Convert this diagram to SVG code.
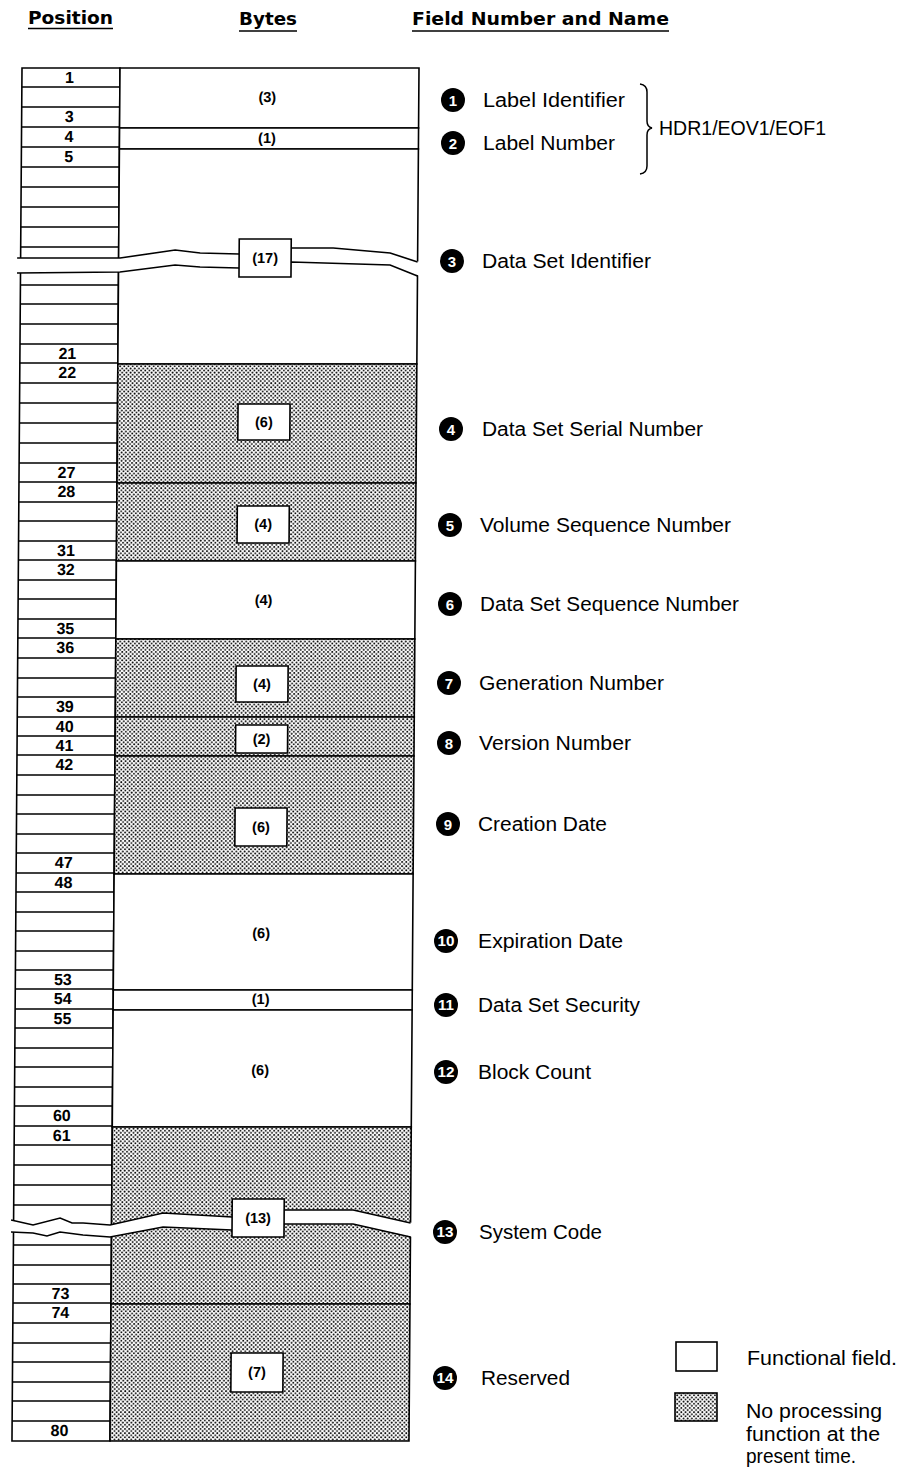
<svg xmlns="http://www.w3.org/2000/svg" width="901" height="1470" viewBox="0 0 901 1470">
<style>
.hd{font-family:"DejaVu Sans","Liberation Sans",sans-serif;font-weight:bold;font-size:17px;fill:#000}
.ul{stroke:#000;stroke-width:1.6}
.pos{font-family:"Liberation Sans",Arial,sans-serif;font-weight:bold;font-size:16px;text-anchor:middle;fill:#000}
.byt{font-family:"Liberation Sans",Arial,sans-serif;font-weight:bold;font-size:14.5px;text-anchor:middle;fill:#000}
.lbl{font-family:"Liberation Sans",Arial,sans-serif;font-size:19.5px;fill:#000}
.cn{font-family:"Liberation Sans",Arial,sans-serif;font-weight:bold;font-size:15px;text-anchor:middle;fill:#fff}
.cn2{font-family:"Liberation Sans",Arial,sans-serif;font-weight:bold;font-size:14px;text-anchor:middle;fill:#fff}
.fw{fill:#fff;stroke:#000;stroke-width:1.6}
.fs{fill:url(#dots);stroke:#000;stroke-width:1.6}
.bx{fill:#fff;stroke:#000;stroke-width:1.6}
.rl{fill:none;stroke:#000;stroke-width:1.4}
.wv{fill:none;stroke:#000;stroke-width:1.6}
</style>
<defs>
<pattern id="dots" width="4.2" height="4.2" patternUnits="userSpaceOnUse">
<rect width="4.2" height="4.2" fill="#fff"/>
<circle cx="1" cy="1" r="0.95" fill="#000"/>
<circle cx="3.1" cy="3.1" r="0.95" fill="#000"/>
</pattern>
</defs>
<rect width="901" height="1470" fill="#fff"/>

<g id="headers">
<text class="hd" x="28" y="24" textLength="85" lengthAdjust="spacingAndGlyphs">Position</text>
<line class="ul" x1="28" y1="28.5" x2="113" y2="28.5"/>
<text class="hd" x="239" y="25" textLength="58" lengthAdjust="spacingAndGlyphs">Bytes</text>
<line class="ul" x1="239" y1="31" x2="297" y2="31"/>
<text class="hd" x="412" y="25" textLength="257" lengthAdjust="spacingAndGlyphs">Field Number and Name</text>
<line class="ul" x1="412" y1="31" x2="669" y2="31"/>
</g>

<g id="table" transform="matrix(1 0 -0.0073 1 0 0)">
<g id="position-column">
<rect x="22.5" y="68" width="98" height="1373" fill="#fff" stroke="#000" stroke-width="1.6"/>
<path class="rl" d="M22.5 87H120.5M22.5 107H120.5M22.5 127H120.5M22.5 147H120.5M22.5 167H120.5M22.5 187H120.5M22.5 207H120.5M22.5 227H120.5M22.5 247H120.5
M22.5 285H120.5M22.5 304H120.5M22.5 324H120.5M22.5 344H120.5M22.5 363H120.5M22.5 383H120.5M22.5 403H120.5M22.5 423H120.5M22.5 443H120.5M22.5 463H120.5
M22.5 482H120.5M22.5 502H120.5M22.5 521H120.5M22.5 541H120.5M22.5 560H120.5M22.5 580H120.5M22.5 599H120.5M22.5 619H120.5M22.5 638H120.5M22.5 658H120.5
M22.5 678H120.5M22.5 697H120.5M22.5 717H120.5M22.5 736H120.5M22.5 755H120.5M22.5 775H120.5M22.5 795H120.5M22.5 814H120.5M22.5 834H120.5M22.5 853H120.5
M22.5 873H120.5M22.5 892H120.5M22.5 912H120.5M22.5 931H120.5M22.5 951H120.5M22.5 970H120.5M22.5 989H120.5M22.5 1009H120.5M22.5 1028H120.5M22.5 1048H120.5
M22.5 1067H120.5M22.5 1087H120.5M22.5 1106H120.5M22.5 1126H120.5M22.5 1145H120.5M22.5 1165H120.5M22.5 1185H120.5M22.5 1205H120.5
M22.5 1245H120.5M22.5 1265H120.5M22.5 1284H120.5M22.5 1303H120.5M22.5 1323H120.5M22.5 1343H120.5M22.5 1362H120.5M22.5 1382H120.5M22.5 1401H120.5M22.5 1421H120.5"/>
</g>

<g id="f1"><rect class="fw" x="120.5" y="68" width="299" height="60"/></g>
<g id="f2"><rect class="fw" x="120.5" y="128" width="299" height="21"/></g>
<g id="f3"><rect class="fw" x="120.5" y="149" width="299" height="215"/></g>
<g id="f4"><rect class="fs" x="120.5" y="364" width="299" height="119"/></g>
<g id="f5"><rect class="fs" x="120.5" y="483" width="299" height="78"/></g>
<g id="f6"><rect class="fw" x="120.5" y="561" width="299" height="78"/></g>
<g id="f7"><rect class="fs" x="120.5" y="639" width="299" height="78"/></g>
<g id="f8"><rect class="fs" x="120.5" y="717" width="299" height="39"/></g>
<g id="f9"><rect class="fs" x="120.5" y="756" width="299" height="118"/></g>
<g id="f10"><rect class="fw" x="120.5" y="874" width="299" height="116"/></g>
<g id="f11"><rect class="fw" x="120.5" y="990" width="299" height="20"/></g>
<g id="f12"><rect class="fw" x="120.5" y="1010" width="299" height="117"/></g>
<g id="f13"><rect class="fs" x="120.5" y="1127" width="299" height="177"/></g>
<g id="f14"><rect class="fs" x="120.5" y="1304" width="299" height="137"/></g>

<g id="break-1">
<path fill="#fff" d="M17 258L122 258L177 250L202 253L241 254L293 248L335 248L392 253L422 262L422 276L392 265L293 262L241 268L202 267L177 265L122 272L17 273Z"/>
<path class="wv" d="M19 258L122 258L177 250L202 253L241 254L293 248L335 248L392 253L419.5 262"/>
<path class="wv" d="M19 273L122 272L177 265L202 267L241 268L293 262L392 265L419.5 276"/>
</g>
<g id="break-2">
<path fill="#fff" d="M18 1220L42 1225L69 1218L81 1223L92 1223L119 1225L172 1213L241 1217L293 1210L362 1210L422 1223L422 1237L362 1224L293 1224L241 1230L172 1227L119 1237L92 1235L69 1232L56 1236L42 1233L18 1232Z"/>
<path class="wv" d="M20 1220L42 1225L69 1218L81 1223L92 1223L119 1225L172 1213L241 1217L293 1210L362 1210L419.5 1223"/>
<path class="wv" d="M20 1232L42 1233L56 1236L69 1232L92 1235L119 1237L172 1227L241 1230L293 1224L362 1224L419.5 1237"/>
</g>

<g id="byte-boxes">
<rect class="bx" x="241" y="239" width="52" height="38"/>
<rect class="bx" x="241" y="404" width="52" height="36"/>
<rect class="bx" x="241" y="506" width="52" height="37"/>
<rect class="bx" x="241" y="666" width="52" height="36"/>
<rect class="bx" x="241" y="725" width="52" height="28"/>
<rect class="bx" x="241" y="808" width="52" height="38"/>
<rect class="bx" x="241" y="1199" width="52" height="38"/>
<rect class="bx" x="241" y="1353" width="52" height="39"/>
</g>

<g id="byte-labels">
<text class="byt" x="268" y="102">(3)</text>
<text class="byt" x="268" y="143">(1)</text>
<text class="byt" x="267" y="263">(17)</text>
<text class="byt" x="267" y="427">(6)</text>
<text class="byt" x="267" y="529">(4)</text>
<text class="byt" x="268" y="605">(4)</text>
<text class="byt" x="267" y="689">(4)</text>
<text class="byt" x="267" y="744">(2)</text>
<text class="byt" x="267" y="832">(6)</text>
<text class="byt" x="268" y="938">(6)</text>
<text class="byt" x="268" y="1004">(1)</text>
<text class="byt" x="268" y="1075">(6)</text>
<text class="byt" x="267" y="1223">(13)</text>
<text class="byt" x="267" y="1377">(7)</text>
</g>

<g id="position-numbers">
<text class="pos" x="70" y="83">1</text>
<text class="pos" x="70" y="122.5">3</text>
<text class="pos" x="70" y="142.5">4</text>
<text class="pos" x="70" y="162.5">5</text>
<text class="pos" x="70" y="359.5">21</text>
<text class="pos" x="70" y="378.5">22</text>
<text class="pos" x="70" y="478.5">27</text>
<text class="pos" x="70" y="497.5">28</text>
<text class="pos" x="70" y="556.5">31</text>
<text class="pos" x="70" y="575.5">32</text>
<text class="pos" x="70" y="634.5">35</text>
<text class="pos" x="70" y="653.5">36</text>
<text class="pos" x="70" y="712.5">39</text>
<text class="pos" x="70" y="732.5">40</text>
<text class="pos" x="70" y="751.5">41</text>
<text class="pos" x="70" y="770.5">42</text>
<text class="pos" x="70" y="868.5">47</text>
<text class="pos" x="70" y="888.5">48</text>
<text class="pos" x="70" y="985.5">53</text>
<text class="pos" x="70" y="1004.5">54</text>
<text class="pos" x="70" y="1024.5">55</text>
<text class="pos" x="70" y="1121.5">60</text>
<text class="pos" x="70" y="1141.5">61</text>
<text class="pos" x="70" y="1299.5">73</text>
<text class="pos" x="70" y="1318.5">74</text>
<text class="pos" x="70" y="1436.5">80</text>
</g>
</g>

<g id="field-names">
<g id="n1"><circle cx="453" cy="100" r="12"/><text class="cn" x="453" y="105.5">1</text><text class="lbl" x="483" y="107" textLength="142" lengthAdjust="spacingAndGlyphs">Label Identifier</text></g>
<g id="n2"><circle cx="453" cy="143" r="12"/><text class="cn" x="453" y="148.5">2</text><text class="lbl" x="483" y="150" textLength="132" lengthAdjust="spacingAndGlyphs">Label Number</text></g>
<g id="n3"><circle cx="452" cy="261" r="12"/><text class="cn" x="452" y="266.5">3</text><text class="lbl" x="482" y="268" textLength="169" lengthAdjust="spacingAndGlyphs">Data Set Identifier</text></g>
<g id="n4"><circle cx="451" cy="429" r="12"/><text class="cn" x="451" y="434.5">4</text><text class="lbl" x="482" y="436" textLength="221" lengthAdjust="spacingAndGlyphs">Data Set Serial Number</text></g>
<g id="n5"><circle cx="450" cy="525" r="12"/><text class="cn" x="450" y="530.5">5</text><text class="lbl" x="480" y="532" textLength="251" lengthAdjust="spacingAndGlyphs">Volume Sequence Number</text></g>
<g id="n6"><circle cx="450" cy="604" r="12"/><text class="cn" x="450" y="609.5">6</text><text class="lbl" x="480" y="611" textLength="259" lengthAdjust="spacingAndGlyphs">Data Set Sequence Number</text></g>
<g id="n7"><circle cx="449" cy="683" r="12"/><text class="cn" x="449" y="688.5">7</text><text class="lbl" x="479" y="690" textLength="185" lengthAdjust="spacingAndGlyphs">Generation Number</text></g>
<g id="n8"><circle cx="449" cy="743" r="12"/><text class="cn" x="449" y="748.5">8</text><text class="lbl" x="479" y="750" textLength="152" lengthAdjust="spacingAndGlyphs">Version Number</text></g>
<g id="n9"><circle cx="448" cy="824" r="12"/><text class="cn" x="448" y="829.5">9</text><text class="lbl" x="478" y="831" textLength="129" lengthAdjust="spacingAndGlyphs">Creation Date</text></g>
<g id="n10"><circle cx="446" cy="941" r="12"/><text class="cn2" x="446" y="946" textLength="17" lengthAdjust="spacingAndGlyphs">10</text><text class="lbl" x="478" y="948" textLength="145" lengthAdjust="spacingAndGlyphs">Expiration Date</text></g>
<g id="n11"><circle cx="446" cy="1005" r="12"/><text class="cn2" x="446" y="1010" textLength="16" lengthAdjust="spacingAndGlyphs">11</text><text class="lbl" x="478" y="1012" textLength="162" lengthAdjust="spacingAndGlyphs">Data Set Security</text></g>
<g id="n12"><circle cx="446" cy="1072" r="12"/><text class="cn2" x="446" y="1077" textLength="17" lengthAdjust="spacingAndGlyphs">12</text><text class="lbl" x="478" y="1079" textLength="113" lengthAdjust="spacingAndGlyphs">Block Count</text></g>
<g id="n13"><circle cx="445" cy="1232" r="12"/><text class="cn2" x="445" y="1237" textLength="17" lengthAdjust="spacingAndGlyphs">13</text><text class="lbl" x="479" y="1239" textLength="123" lengthAdjust="spacingAndGlyphs">System Code</text></g>
<g id="n14"><circle cx="445" cy="1378" r="12"/><text class="cn2" x="445" y="1383" textLength="17" lengthAdjust="spacingAndGlyphs">14</text><text class="lbl" x="481" y="1385" textLength="89" lengthAdjust="spacingAndGlyphs">Reserved</text></g>
</g>

<g id="label-group">
<path fill="none" stroke="#000" stroke-width="1.5" d="M640 84Q647 85 647 92L647 121Q647 127 652 128Q647 129 647 135L647 166Q647 173 640 174"/>
<text class="lbl" x="659" y="135" textLength="167" lengthAdjust="spacingAndGlyphs">HDR1/EOV1/EOF1</text>
</g>

<g id="legend">
<rect x="676" y="1342" width="41" height="29" fill="#fff" stroke="#000" stroke-width="1.6"/>
<text class="lbl" x="747" y="1365" textLength="150" lengthAdjust="spacingAndGlyphs">Functional field.</text>
<rect x="675" y="1393" width="42" height="28" fill="url(#dots)" stroke="#000" stroke-width="1.6"/>
<text class="lbl" x="746" y="1418" textLength="136" lengthAdjust="spacingAndGlyphs">No processing</text>
<text class="lbl" x="746" y="1441" textLength="134" lengthAdjust="spacingAndGlyphs">function at the</text>
<text class="lbl" x="746" y="1463" textLength="110" lengthAdjust="spacingAndGlyphs">present time.</text>
</g>
</svg>
